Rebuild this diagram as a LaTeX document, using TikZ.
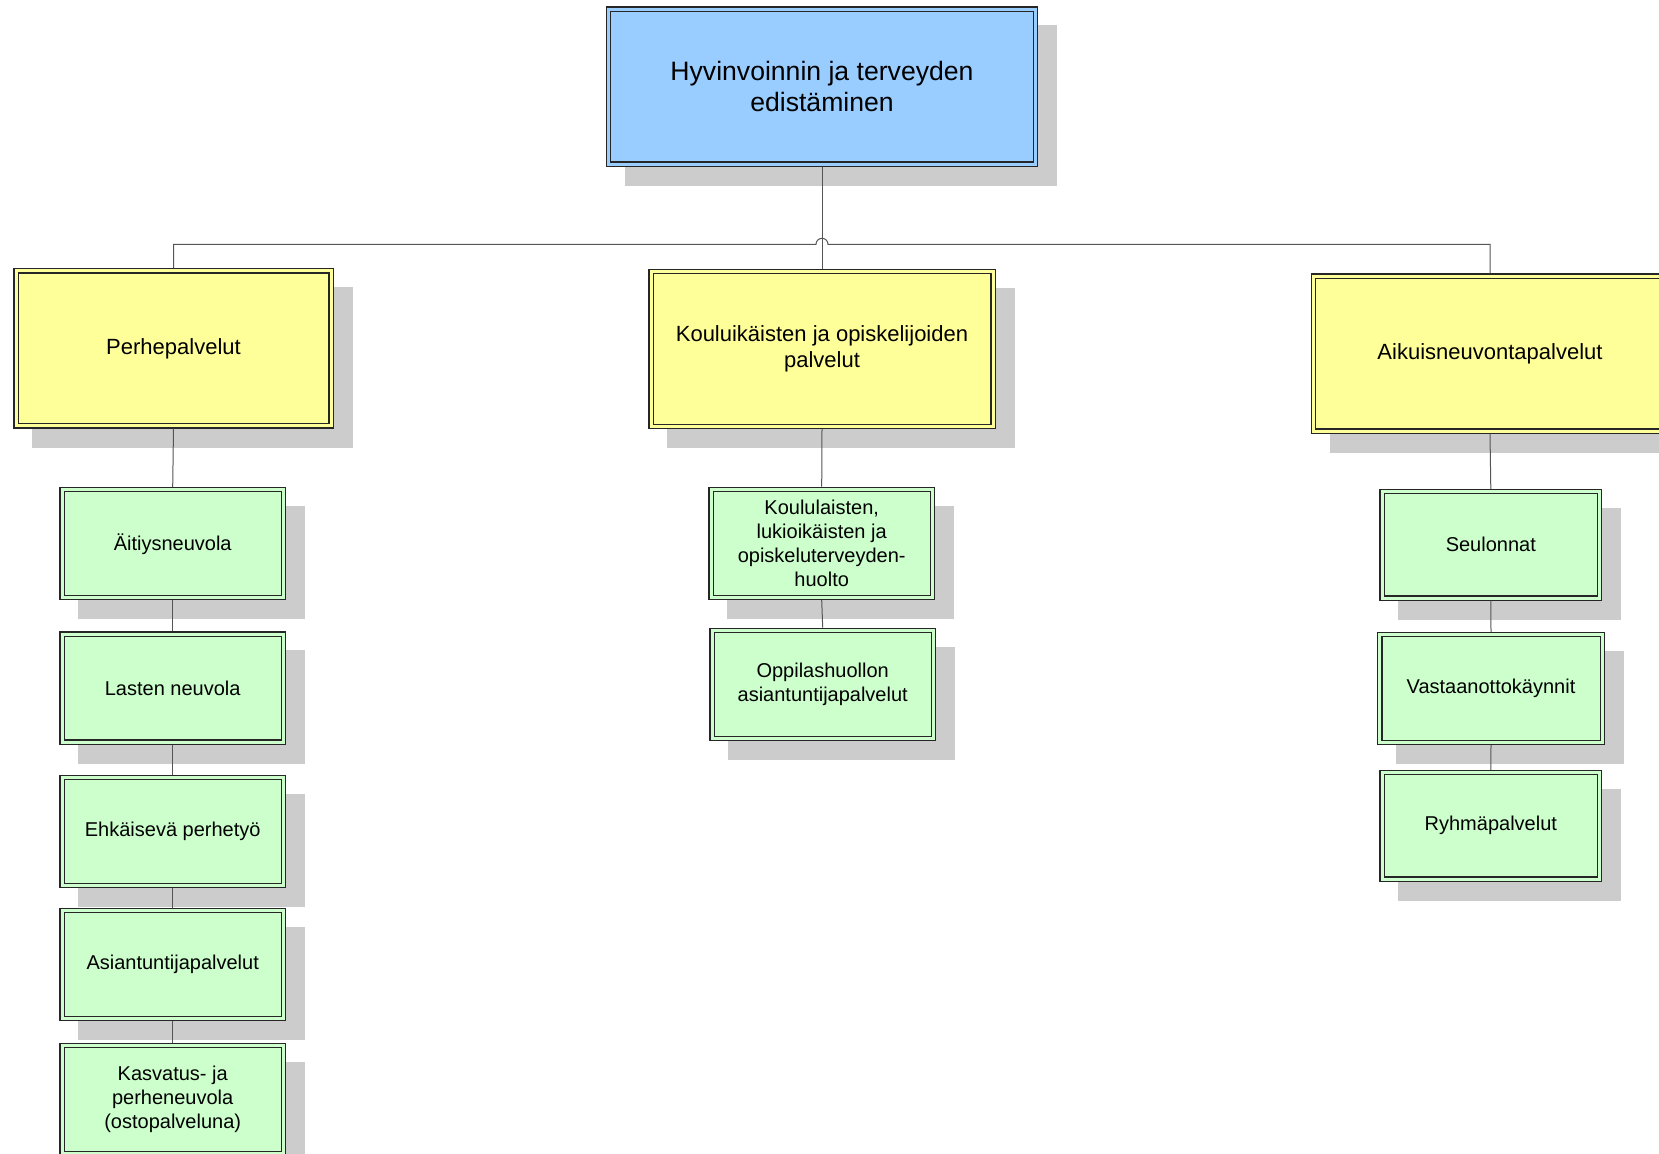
\documentclass[tikz,border=0pt]{standalone}
\usepackage{fontspec}
\setmainfont{Liberation Sans}
\usetikzlibrary{calc,shadows}
\definecolor{topblue}{HTML}{99CCFF}
\definecolor{mainyellow}{HTML}{FFFF99}
\definecolor{subgreen}{HTML}{CCFFCC}
\definecolor{shadowgray}{HTML}{CCCCCC}
\definecolor{linegray}{HTML}{555555}
\tikzset{
	orgbox/.style={draw=black!85, line width=0.6pt, double distance=1.5pt, inner sep=0pt, outer sep=1.35pt, align=center,
		drop shadow={shadow xshift=9.5pt, shadow yshift=-9.5pt, fill=shadowgray, draw=shadowgray, line width=2.7pt, opacity=1}},
	topbox/.style={orgbox, fill=topblue, double=topblue, minimum width=213.5pt, minimum height=77.5pt, font=\fontsize{13.3}{15.5}\selectfont},
	mainbox/.style={orgbox, fill=mainyellow, double=mainyellow, minimum height=77.5pt, font=\fontsize{11}{13.3}\selectfont},
	subbox/.style={orgbox, fill=subgreen, double=subgreen, minimum width=110.6pt, minimum height=54pt, font=\fontsize{10}{12}\selectfont},
	link/.style={draw=linegray, line width=0.5pt}
}

\begin{document}
\begin{tikzpicture}[x=0.5pt, y=-0.5pt]
		%%%%% START %%%%%
		\path[use as bounding box, clip] (0, 0) rectangle (1659, 1153);
		
		\node[topbox] (top) at (822, 86.5) {Hyvinvoinnin ja terveyden\\edistäminen};
		
		\node[mainbox, minimum width=157.5pt] (perhe) at (173.5, 348.3) {Perhepalvelut};
		\node[mainbox, minimum width=171pt] (koulu) at (822, 348.7) {Kouluikäisten ja opiskelijoiden\\palvelut};
		\node[mainbox, minimum width=176.3pt] (aikuis) at (1490, 353.5) {Aikuisneuvontapalvelut};
		
		\node[subbox] (aitiys) at (172.7, 543.7) {Äitiysneuvola};
		\node[subbox] (lasten) at (172.7, 688) {Lasten neuvola};
		\node[subbox] (ehkaisy) at (172.7, 831.2) {Ehkäisevä perhetyö};
		\node[subbox] (asiantuntija) at (172.7, 964.2) {Asiantuntijapalvelut};
		\node[subbox] (kasvatus) at (172.7, 1099.4) {Kasvatus- ja\\perheneuvola\\(ostopalveluna)};
		
		\node[subbox] (koululaiset) at (821.7, 543.3) {Koululaisten,\\lukioikäisten ja\\opiskeluterveyden-\\huolto};
		\node[subbox] (oppilashuolto) at (822.7, 684.3) {Oppilashuollon\\asiantuntijapalvelut};
		
		\node[subbox, minimum width=108.8pt, minimum height=53.2pt] (seulonnat) at (1490.8, 544.8) {Seulonnat};
		\node[subbox, minimum width=111.2pt] (vastaanotto) at (1491, 688.5) {Vastaanottokäynnit};
		\node[subbox, minimum width=108.8pt, minimum height=53.2pt] (ryhma) at (1490.8, 825.8) {Ryhmäpalvelut};
		
		\coordinate (bus) at (822, 244.3);
		\draw[link] (top.south) -- (koulu.north);
		\draw[link] (perhe.north) |- ($(bus)+(-6, 0)$) arc[start angle=180, end angle=0, radius=3pt] -- (bus -| aikuis.north) -- (aikuis.north);
		
		\draw[link] (perhe.south) -- (aitiys.north);
		\draw[link] (aitiys.south) -- (lasten.north);
		\draw[link] (lasten.south) -- (ehkaisy.north);
		\draw[link] (ehkaisy.south) -- (asiantuntija.north);
		\draw[link] (asiantuntija.south) -- (kasvatus.north);
		
		\draw[link] (koulu.south) -- (koululaiset.north);
		\draw[link] (koululaiset.south) -- (oppilashuolto.north);
		
		\draw[link] (aikuis.south) -- (seulonnat.north);
		\draw[link] (seulonnat.south) -- (vastaanotto.north);
		\draw[link] (vastaanotto.south) -- (ryhma.north);
		%%%%% END %%%%%
	\end{tikzpicture}
\end{document}
